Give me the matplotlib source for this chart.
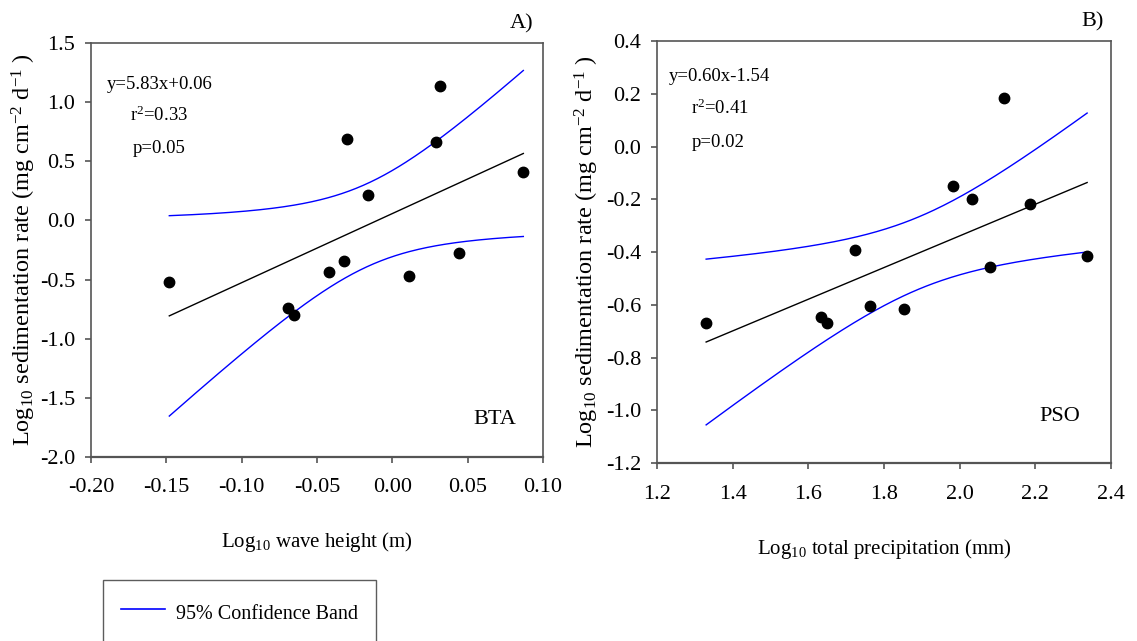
import numpy as np
import matplotlib
matplotlib.use("Agg")
import matplotlib.pyplot as plt
from matplotlib.ticker import FormatStrFormatter
from matplotlib.lines import Line2D

plt.rcParams['font.family'] = ['Liberation Serif', 'DejaVu Serif']
plt.rcParams['mathtext.fontset'] = 'custom'
plt.rcParams['mathtext.rm'] = 'Liberation Serif'
plt.rcParams['mathtext.it'] = 'Liberation Serif:italic'

# panel A: wave height vs sedimentation (BTA)
wave_x = [-0.148, -0.069, -0.065, -0.042, -0.032, -0.030, -0.016, 0.011, 0.029, 0.032, 0.044, 0.087]
wave_y = [-0.517, -0.744, -0.801, -0.438, -0.340, 0.688, 0.211, -0.466, 0.663, 1.132, -0.272, 0.410]

# panel B: precipitation vs sedimentation (PSO)
prec_x = [1.330, 1.634, 1.650, 1.723, 1.764, 1.852, 1.983, 2.033, 2.080, 2.118, 2.187, 2.337]
prec_y = [-0.669, -0.648, -0.668, -0.394, -0.603, -0.615, -0.151, -0.200, -0.457, 0.185, -0.217, -0.416]

a_xticks = [-0.20, -0.15, -0.10, -0.05, 0.00, 0.05, 0.10]
a_yticks = [-2.0, -1.5, -1.0, -0.5, 0.0, 0.5, 1.0, 1.5]
b_xticks = [1.2, 1.4, 1.6, 1.8, 2.0, 2.2, 2.4]
b_yticks = [-1.2, -1.0, -0.8, -0.6, -0.4, -0.2, 0.0, 0.2, 0.4]

T_975 = 2.228  # t value, df = 10


def fit_band(x, y):
    x = np.asarray(x)
    y = np.asarray(y)
    n = len(x)
    b, a = np.polyfit(x, y, 1)
    resid = y - (a + b * x)
    s = np.sqrt(np.sum(resid ** 2) / (n - 2))
    xs = np.linspace(x.min(), x.max(), 200)
    sxx = np.sum((x - x.mean()) ** 2)
    half = T_975 * s * np.sqrt(1 / n + (xs - x.mean()) ** 2 / sxx)
    fit = a + b * xs
    return xs, fit, fit - half, fit + half


def panel(ax, x, y, xticks, yticks, xfmt, yfmt, xlabel, stats, site, tag, ylab_x, xlab_y):
    xs, fit, lo, hi = fit_band(x, y)
    ax.plot(xs, fit, color='black', lw=1.0)
    ax.plot(xs, hi, color='blue', lw=1.0)
    ax.plot(xs, lo, color='blue', lw=1.0)
    ax.plot(x, y, 'o', color='black', ms=7.5, zorder=5)

    ax.set_xlim(xticks[0], xticks[-1])
    ax.set_ylim(yticks[0], yticks[-1])
    ax.set_xticks(xticks)
    ax.set_yticks(yticks)
    ax.xaxis.set_major_formatter(FormatStrFormatter(xfmt))
    ax.yaxis.set_major_formatter(FormatStrFormatter(yfmt))
    ax.tick_params(direction='out', length=4.5, width=1.2, color='#555555', labelsize=16)
    ax.tick_params(axis='x', pad=11)
    ax.tick_params(axis='y', pad=7)
    for sp in ax.spines.values():
        sp.set_color('#555555')
        sp.set_linewidth(1.2)
    ax.spines['bottom'].set_linewidth(1.6)

    ax.set_ylabel('Log$_{\\mathrm{10}}$ sedimentation rate (mg cm$^{\\mathrm{-2}}$ d$^{\\mathrm{-1}}$ )',
                  fontsize=17.5, va='center')
    ax.yaxis.set_label_coords(ylab_x, 0.5)
    ax.set_xlabel(xlabel, fontsize=15, va='center')
    ax.xaxis.set_label_coords(0.5, xlab_y)

    eq, r2, p = stats
    ax.text(stats_pos[tag][0], stats_pos[tag][1], eq, transform=ax.transAxes, fontsize=13.5, va='center')
    ax.text(stats_pos[tag][2], stats_pos[tag][3], r2, transform=ax.transAxes, fontsize=13.5, va='center')
    ax.text(stats_pos[tag][4], stats_pos[tag][5], p, transform=ax.transAxes, fontsize=13.5, va='center')
    ax.text(site_pos[tag][0], site_pos[tag][1], site, transform=ax.transAxes, fontsize=16,
            ha='right', va='center')
    ax.text(site_pos[tag][2], site_pos[tag][3], tag, transform=ax.transAxes, fontsize=16,
            ha='right', va='center')


stats_pos = {'A)': (0.036, 0.90, 0.087, 0.825, 0.092, 0.745),
             'B)': (0.027, 0.916, 0.075, 0.84, 0.077, 0.76)}
site_pos = {'A)': (0.94, 0.09, 0.98, 1.046),
            'B)': (0.933, 0.109, 0.985, 1.045)}

fig = plt.figure(figsize=(11.37, 6.41), dpi=100)
ax1 = fig.add_axes([0.0800, 0.2871, 0.3975, 0.6459])
ax2 = fig.add_axes([0.5778, 0.2777, 0.3993, 0.6583])

panel(ax1, wave_x, wave_y, a_xticks, a_yticks, '%.2f', '%.1f',
      'Log$_{\\mathrm{10}}$ wave height (m)',
      ('y=5.83x+0.06', 'r$^{\\mathrm{2}}$=0.33', 'p=0.05'), 'BTA', 'A)', -0.148, -0.205)
panel(ax2, prec_x, prec_y, b_xticks, b_yticks, '%.1f', '%.1f',
      'Log$_{\\mathrm{10}}$ total precipitation (mm)',
      ('y=0.60x-1.54', 'r$^{\\mathrm{2}}$=0.41', 'p=0.02'), 'PSO', 'B)', -0.155, -0.204)

handle = Line2D([], [], color='blue', lw=1.2)
fig.legend([handle], ['95% Confidence Band'], loc='upper left',
           bbox_to_anchor=(103 / 1137, 1 - 580 / 641), borderaxespad=0,
           fontsize=14.5, frameon=True, fancybox=False, edgecolor='#333333',
           borderpad=0.9, handlelength=2.2, handletextpad=0.5, handleheight=1.9)

fig.savefig('out.png', dpi=100)
